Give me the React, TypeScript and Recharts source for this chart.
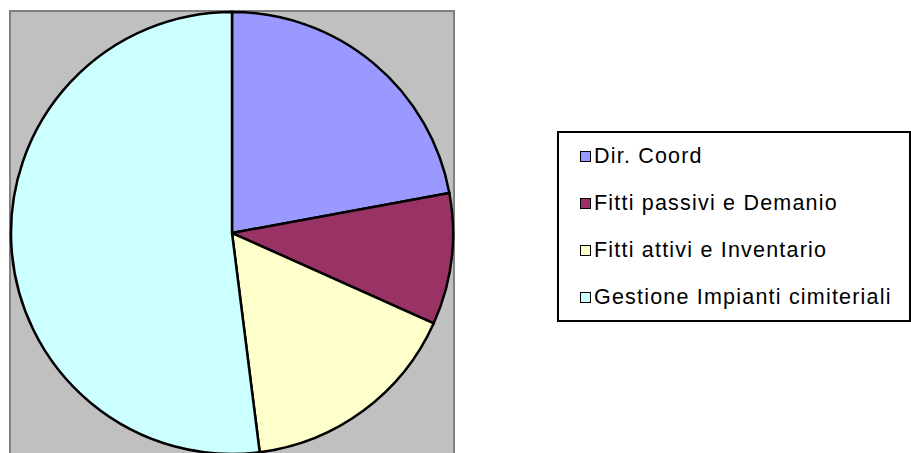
import { PieChart, Pie, Cell, Legend } from "recharts";

const categories = [
  "Dir. Coord",
  "Fitti passivi e Demanio",
  "Fitti attivi e Inventario",
  "Gestione Impianti cimiteriali",
];
const shares = [22.1, 9.6, 16.3, 52.0];
const COLORS = ["#9999FF", "#993366", "#FFFFCC", "#CCFFFF"];

const data = categories.map((name, i) => ({ name, value: shares[i] }));

// legend keeps the data order (recharts sorts its payload otherwise)
const renderLegend = () => (
  <div
    style={{
      width: 350,
      height: 187,
      border: "2px solid #000",
      background: "#fff",
      boxSizing: "content-box",
      fontFamily: "'Liberation Sans', Arial, sans-serif",
      fontSize: 21.5,
      letterSpacing: 1.2,
      color: "#000",
    }}
  >
    {categories.map((name, i) => (
      <div
        key={`leg-${i}`}
        style={{ height: 47, display: "flex", alignItems: "center", paddingLeft: 21 }}
      >
        <div
          style={{
            width: 9,
            height: 9,
            border: "1.5px solid #000",
            background: COLORS[i],
            marginRight: 3,
            flexShrink: 0,
          }}
        />
        <span style={{ whiteSpace: "nowrap", lineHeight: "21px" }}>{name}</span>
      </div>
    ))}
  </div>
);

export default function App() {
  return (
    <div
      style={{
        position: "fixed",
        left: 0,
        top: 0,
        width: 911,
        height: 453,
        background: "#fff",
        overflow: "hidden",
      }}
    >
      {/* plot area */}
      <div
        style={{
          position: "absolute",
          left: 9,
          top: 10,
          width: 442,
          height: 450,
          background: "#C0C0C0",
          border: "2px solid #808080",
        }}
      />
      <div style={{ position: "absolute", left: 0, top: 0 }}>
        <PieChart width={911} height={453} margin={{ top: 0, right: 0, bottom: 0, left: 0 }}>
          <Pie
            data={data}
            dataKey="value"
            nameKey="name"
            cx={232}
            cy={233}
            outerRadius={221}
            startAngle={90}
            endAngle={-270}
            stroke="#000"
            strokeWidth={2.5}
            isAnimationActive={false}
          >
            {data.map((_, i) => (
              <Cell key={`cell-${i}`} fill={COLORS[i]} />
            ))}
          </Pie>
          <Legend
            content={renderLegend}
            wrapperStyle={{ position: "absolute", left: 557, top: 131, width: 354, height: 191 }}
          />
        </PieChart>
      </div>
    </div>
  );
}
